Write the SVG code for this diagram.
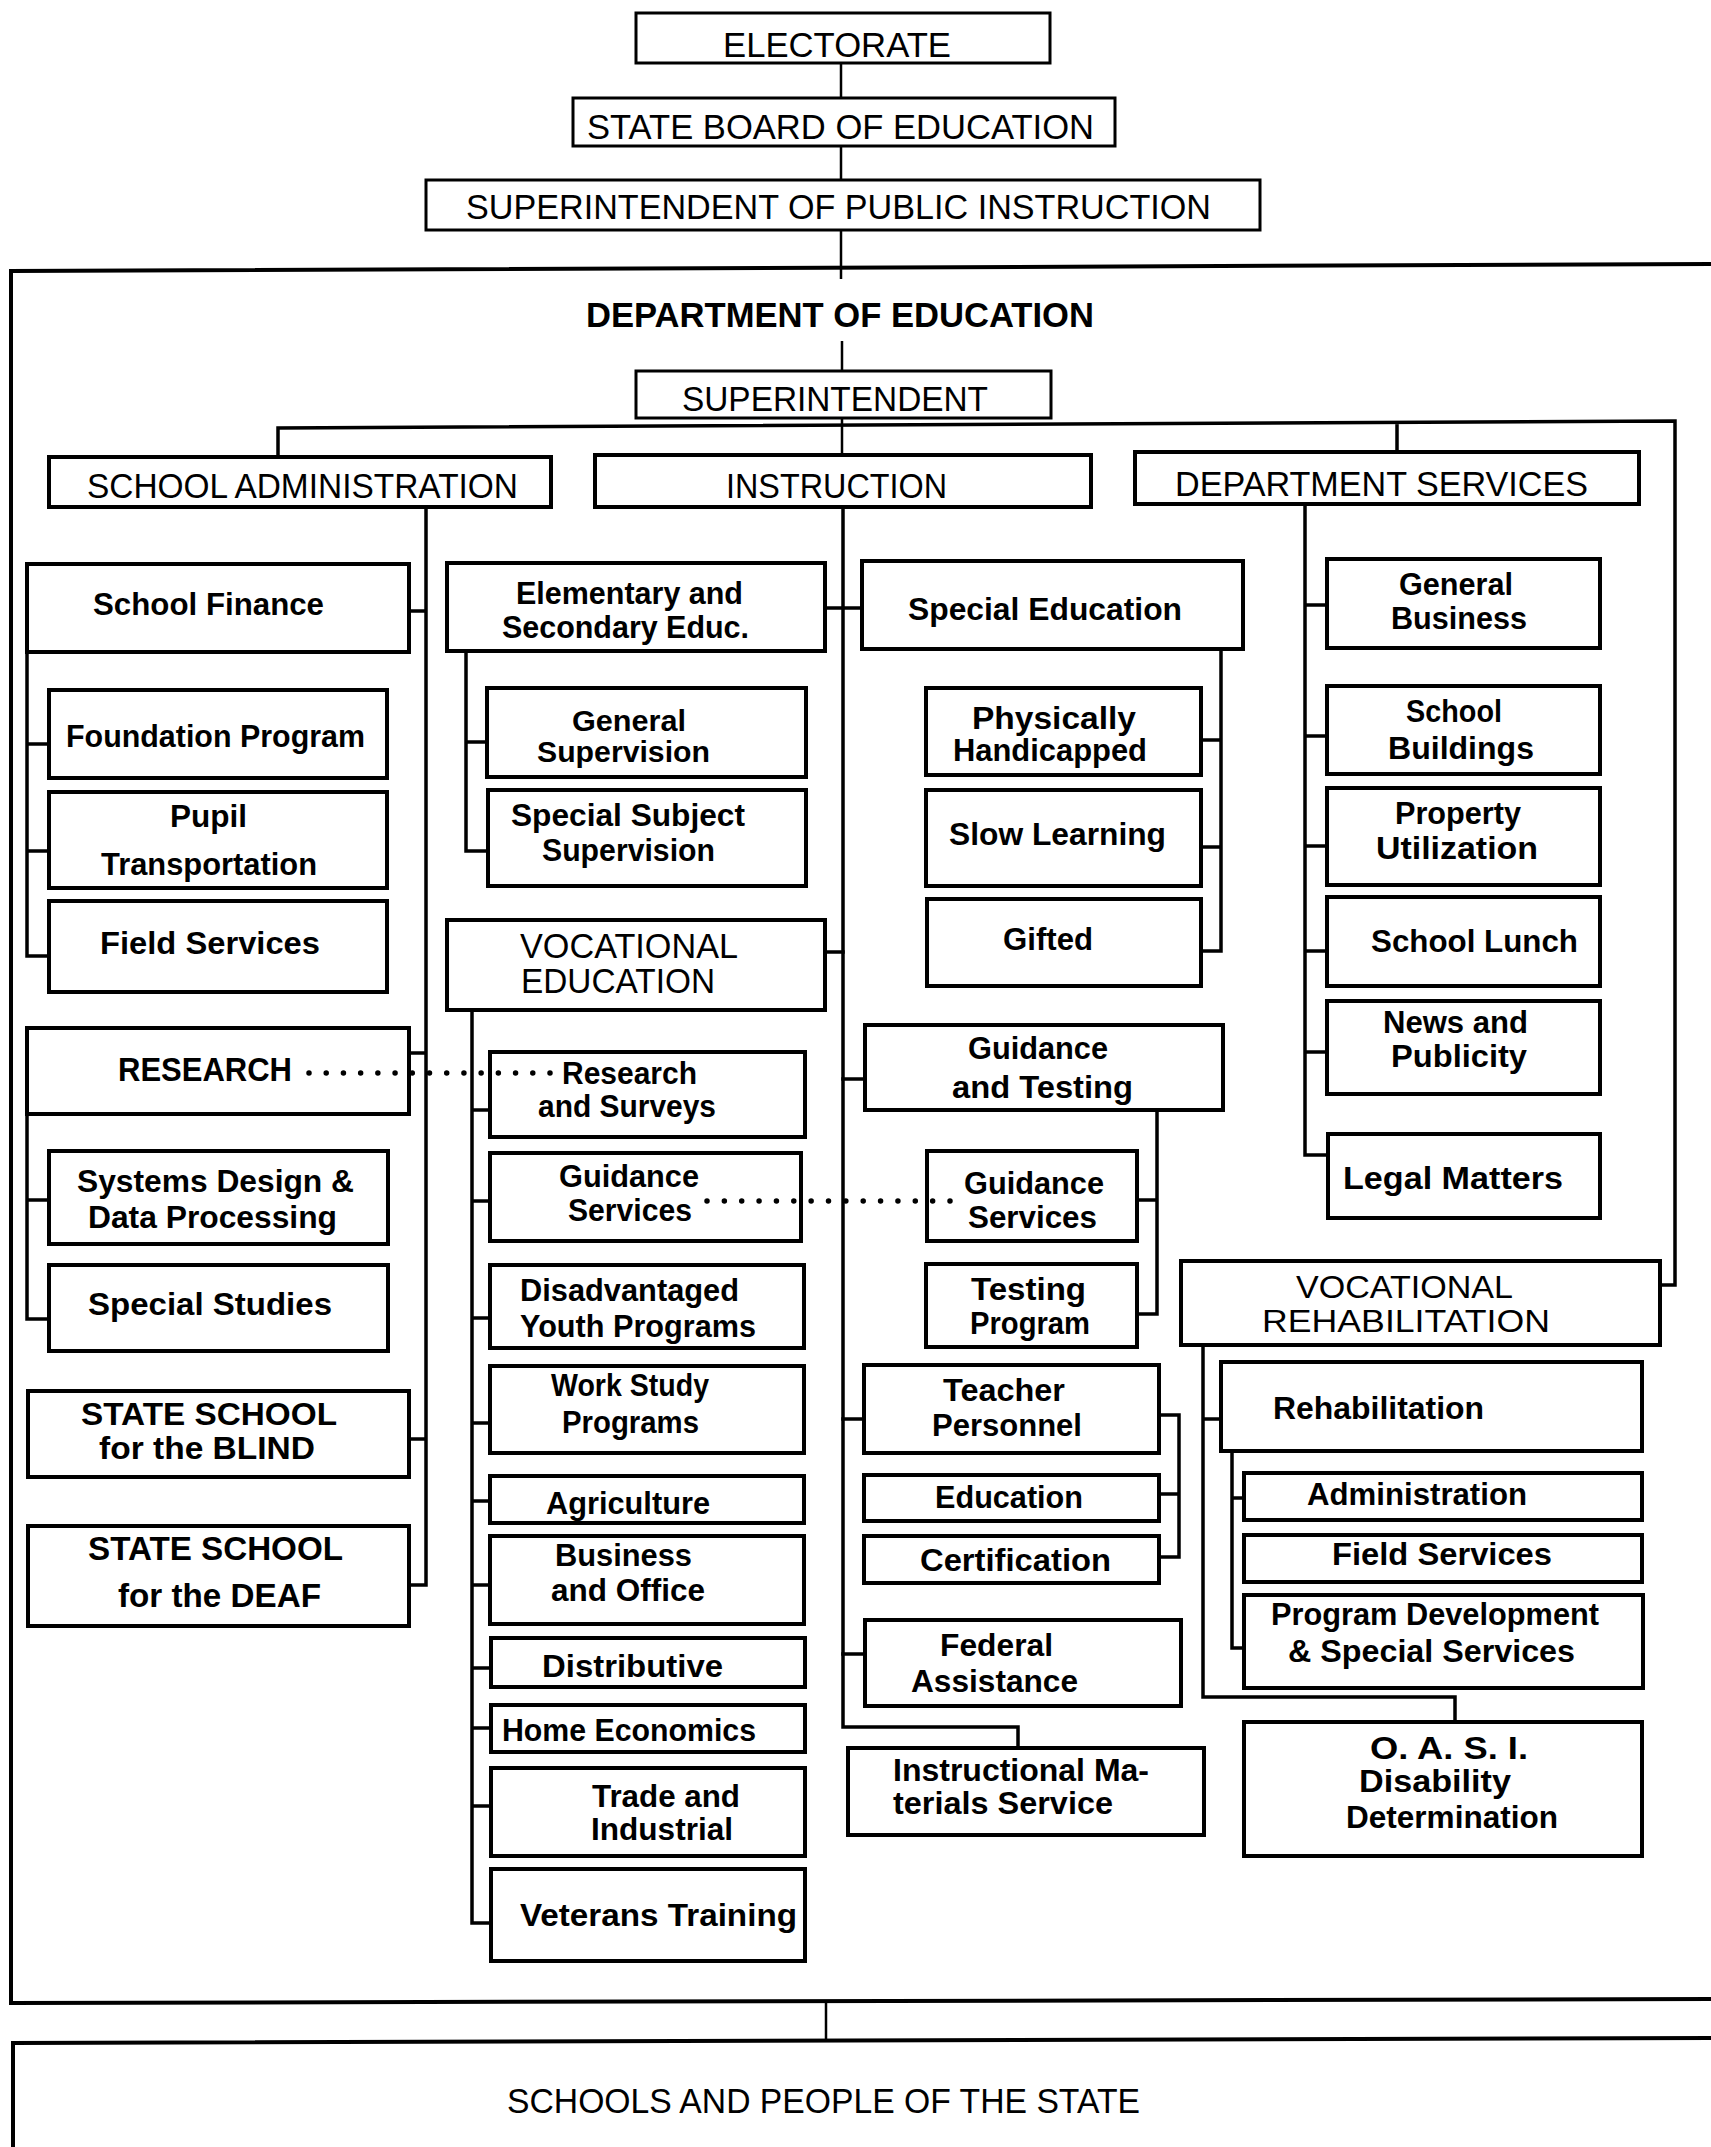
<svg xmlns="http://www.w3.org/2000/svg" width="1711" height="2147" viewBox="0 0 1711 2147">
<style>
.bx{fill:#fff;stroke:#000;stroke-width:4}
.bt{fill:#fff;stroke:#000;stroke-width:3}
.frame{fill:none;stroke:#000;stroke-width:4}
.ln{fill:none;stroke:#000;stroke-width:3.5;stroke-linecap:square}
.lt{fill:none;stroke:#000;stroke-width:2.5}
.dot{fill:none;stroke:#000;stroke-width:5.5;stroke-linecap:round}
text{font-family:"Liberation Sans",Arial,sans-serif;fill:#000}
.u{font-size:35px;font-weight:normal}
.ub{font-size:35px;font-weight:bold}
.b{font-size:31px;font-weight:bold}
.m{font-size:33px;font-weight:bold}
</style>
<rect x="0" y="0" width="1711" height="2147" fill="#fff"/>

<g id="frames">
<path class="frame" d="M1725 264 L11 271 V2003 L1725 1999"/>
<path class="frame" d="M1725 2038 L13 2043 V2160"/>
</g>

<g id="connectors">
<path class="lt" d="M841 63 V98 M841 146 V180 M841 230 V279 M842 341 V371 M842 418 V455"/>
<path class="ln" d="M278 457 V428 L1675 421 V1285 H1660 M1397 424 V452"/>
<path class="ln" d="M426 507 V1585 H409 M409 611 H426 M409 1053 H426 M409 1439 H426"/>
<path class="ln" d="M27 652 V956 H49 M27 744 H49 M27 851 H49"/>
<path class="ln" d="M27 1114 V1319 H49 M27 1200 H49"/>
<path class="ln" d="M843 507 V1727 H1018 V1748"/>
<path class="ln" d="M825 608 H862 M825 952 H843 M843 1079 H865 M843 1419 H864 M843 1654 H865"/>
<path class="ln" d="M466 651 V851 H488 M466 742 H487"/>
<path class="ln" d="M472 1010 V1923 H491 M472 1110 H490 M472 1201 H490 M472 1318 H490 M472 1423 H490 M472 1501 H490 M472 1585 H490 M472 1668 H491 M472 1728 H491 M472 1806 H491"/>
<path class="ln" d="M1221 649 V951 H1201 M1201 740 H1221 M1201 847 H1221"/>
<path class="ln" d="M1157 1110 V1314 H1137 M1137 1200 H1157"/>
<path class="ln" d="M1159 1415 H1179 V1557 H1159 M1159 1494 H1179"/>
<path class="ln" d="M1305 505 V1155 H1328 M1305 605 H1327 M1305 736 H1327 M1305 846 H1327 M1305 951 H1327 M1305 1052 H1327"/>
<path class="ln" d="M1203 1345 V1697 H1455 V1722 M1203 1419 H1221"/>
<path class="ln" d="M1232 1451 V1648 H1244 M1232 1498 H1244"/>
<path class="lt" d="M826 2003 V2042"/>
</g>

<g id="n-electorate"><rect class="bt" x="636" y="13" width="414" height="50"/><text class="u" x="723" y="57" textLength="228" lengthAdjust="spacingAndGlyphs">ELECTORATE</text></g>
<g id="n-stateboard"><rect class="bt" x="573" y="98" width="542" height="48"/><text class="u" x="587" y="139" textLength="507" lengthAdjust="spacingAndGlyphs">STATE BOARD OF EDUCATION</text></g>
<g id="n-spi"><rect class="bt" x="426" y="180" width="834" height="50"/><text class="u" x="466" y="219" textLength="745" lengthAdjust="spacingAndGlyphs">SUPERINTENDENT OF PUBLIC INSTRUCTION</text></g>
<g id="n-dept"><text class="ub" x="586" y="327" textLength="508" lengthAdjust="spacingAndGlyphs">DEPARTMENT OF EDUCATION</text></g>
<g id="n-superintendent"><rect class="bt" x="636" y="371" width="415" height="47"/><text class="u" x="682" y="411" textLength="306" lengthAdjust="spacingAndGlyphs">SUPERINTENDENT</text></g>
<g id="n-schooladmin"><rect class="bx" x="49" y="457" width="502" height="50"/><text class="u" x="87" y="498" textLength="431" lengthAdjust="spacingAndGlyphs">SCHOOL ADMINISTRATION</text></g>
<g id="n-instruction"><rect class="bx" x="595" y="455" width="496" height="52"/><text class="u" x="726" y="498" textLength="221" lengthAdjust="spacingAndGlyphs">INSTRUCTION</text></g>
<g id="n-deptservices"><rect class="bx" x="1135" y="452" width="504" height="52"/><text class="u" x="1175" y="496" textLength="413" lengthAdjust="spacingAndGlyphs">DEPARTMENT SERVICES</text></g>

<g id="n-schoolfinance"><rect class="bx" x="27" y="564" width="382" height="88"/><text class="b" x="93" y="615" textLength="231" lengthAdjust="spacingAndGlyphs">School Finance</text></g>
<g id="n-foundation"><rect class="bx" x="49" y="690" width="338" height="88"/><text class="b" x="66" y="747" textLength="299" lengthAdjust="spacingAndGlyphs">Foundation Program</text></g>
<g id="n-pupil"><rect class="bx" x="49" y="792" width="338" height="96"/><text class="b" x="170" y="827" textLength="77" lengthAdjust="spacingAndGlyphs">Pupil</text><text class="b" x="101" y="875" textLength="216" lengthAdjust="spacingAndGlyphs">Transportation</text></g>
<g id="n-fieldservices"><rect class="bx" x="49" y="901" width="338" height="91"/><text class="b" x="100" y="954" textLength="220" lengthAdjust="spacingAndGlyphs">Field Services</text></g>
<g id="n-research"><rect class="bx" x="27" y="1028" width="382" height="86"/><text class="m" x="118" y="1081" textLength="174" lengthAdjust="spacingAndGlyphs">RESEARCH</text></g>
<g id="n-systems"><rect class="bx" x="49" y="1151" width="339" height="93"/><text class="b" x="77" y="1192" textLength="277" lengthAdjust="spacingAndGlyphs">Systems Design &amp;</text><text class="b" x="88" y="1228" textLength="249" lengthAdjust="spacingAndGlyphs">Data Processing</text></g>
<g id="n-specialstudies"><rect class="bx" x="49" y="1265" width="339" height="86"/><text class="b" x="88" y="1315" textLength="244" lengthAdjust="spacingAndGlyphs">Special  Studies</text></g>
<g id="n-blind"><rect class="bx" x="28" y="1391" width="381" height="86"/><text class="m" x="81" y="1425" textLength="256" lengthAdjust="spacingAndGlyphs" style="font-size:31px">STATE SCHOOL</text><text class="m" x="99" y="1459" textLength="216" lengthAdjust="spacingAndGlyphs" style="font-size:31px">for the BLIND</text></g>
<g id="n-deaf"><rect class="bx" x="28" y="1526" width="381" height="100"/><text class="m" x="88" y="1560" textLength="255" lengthAdjust="spacingAndGlyphs">STATE SCHOOL</text><text class="m" x="118" y="1607" textLength="203" lengthAdjust="spacingAndGlyphs">for the DEAF</text></g>

<g id="n-elementary"><rect class="bx" x="447" y="563" width="378" height="88"/><text class="b" x="516" y="604" textLength="227" lengthAdjust="spacingAndGlyphs">Elementary and</text><text class="b" x="502" y="638" textLength="247" lengthAdjust="spacingAndGlyphs">Secondary Educ.</text></g>
<g id="n-gensup"><rect class="bx" x="487" y="688" width="319" height="89"/><text class="b" x="572" y="731" textLength="114" lengthAdjust="spacingAndGlyphs" style="font-size:29px">General</text><text class="b" x="537" y="762" textLength="173" lengthAdjust="spacingAndGlyphs" style="font-size:29px">Supervision</text></g>
<g id="n-specsubj"><rect class="bx" x="488" y="790" width="318" height="96"/><text class="b" x="511" y="826" textLength="234" lengthAdjust="spacingAndGlyphs">Special Subject</text><text class="b" x="542" y="861" textLength="173" lengthAdjust="spacingAndGlyphs">Supervision</text></g>
<g id="n-voced"><rect class="bx" x="447" y="920" width="378" height="90"/><text class="u" x="520" y="958" textLength="218" lengthAdjust="spacingAndGlyphs">VOCATIONAL</text><text class="u" x="521" y="993" textLength="194" lengthAdjust="spacingAndGlyphs">EDUCATION</text></g>
<g id="n-researchsurveys"><rect class="bx" x="490" y="1052" width="315" height="85"/><text class="b" x="562" y="1084" textLength="135" lengthAdjust="spacingAndGlyphs">Research</text><text class="b" x="538" y="1117" textLength="178" lengthAdjust="spacingAndGlyphs">and Surveys</text></g>
<g id="n-guidanceL"><rect class="bx" x="490" y="1153" width="311" height="88"/><text class="b" x="559" y="1187" textLength="140" lengthAdjust="spacingAndGlyphs">Guidance</text><text class="b" x="568" y="1221" textLength="124" lengthAdjust="spacingAndGlyphs">Services</text></g>
<g id="n-disadv"><rect class="bx" x="490" y="1265" width="314" height="83"/><text class="b" x="520" y="1301" textLength="219" lengthAdjust="spacingAndGlyphs">Disadvantaged</text><text class="b" x="520" y="1337" textLength="236" lengthAdjust="spacingAndGlyphs">Youth Programs</text></g>
<g id="n-workstudy"><rect class="bx" x="490" y="1366" width="314" height="87"/><text class="b" x="551" y="1396" textLength="158" lengthAdjust="spacingAndGlyphs">Work Study</text><text class="b" x="562" y="1433" textLength="137" lengthAdjust="spacingAndGlyphs">Programs</text></g>
<g id="n-agriculture"><rect class="bx" x="490" y="1476" width="314" height="47"/><text class="b" x="546" y="1514" textLength="164" lengthAdjust="spacingAndGlyphs">Agriculture</text></g>
<g id="n-business"><rect class="bx" x="490" y="1536" width="314" height="88"/><text class="b" x="555" y="1566" textLength="137" lengthAdjust="spacingAndGlyphs">Business</text><text class="b" x="551" y="1601" textLength="154" lengthAdjust="spacingAndGlyphs">and Office</text></g>
<g id="n-distributive"><rect class="bx" x="491" y="1638" width="314" height="49"/><text class="b" x="542" y="1677" textLength="181" lengthAdjust="spacingAndGlyphs">Distributive</text></g>
<g id="n-homeec"><rect class="bx" x="491" y="1705" width="314" height="47"/><text class="b" x="502" y="1741" textLength="254" lengthAdjust="spacingAndGlyphs">Home Economics</text></g>
<g id="n-trade"><rect class="bx" x="491" y="1768" width="314" height="88"/><text class="b" x="592" y="1807" textLength="148" lengthAdjust="spacingAndGlyphs">Trade and</text><text class="b" x="591" y="1840" textLength="142" lengthAdjust="spacingAndGlyphs">Industrial</text></g>
<g id="n-veterans"><rect class="bx" x="491" y="1869" width="314" height="92"/><text class="b" x="520" y="1926" textLength="277" lengthAdjust="spacingAndGlyphs">Veterans  Training</text></g>

<g id="n-speced"><rect class="bx" x="862" y="561" width="381" height="88"/><text class="b" x="908" y="620" textLength="274" lengthAdjust="spacingAndGlyphs">Special Education</text></g>
<g id="n-physically"><rect class="bx" x="926" y="688" width="275" height="87"/><text class="b" x="972" y="729" textLength="164" lengthAdjust="spacingAndGlyphs">Physically</text><text class="b" x="953" y="761" textLength="194" lengthAdjust="spacingAndGlyphs">Handicapped</text></g>
<g id="n-slow"><rect class="bx" x="926" y="790" width="275" height="96"/><text class="b" x="949" y="845" textLength="217" lengthAdjust="spacingAndGlyphs">Slow Learning</text></g>
<g id="n-gifted"><rect class="bx" x="927" y="899" width="274" height="87"/><text class="b" x="1003" y="950" textLength="90" lengthAdjust="spacingAndGlyphs">Gifted</text></g>
<g id="n-guidtest"><rect class="bx" x="865" y="1025" width="358" height="85"/><text class="b" x="968" y="1059" textLength="140" lengthAdjust="spacingAndGlyphs">Guidance</text><text class="b" x="952" y="1098" textLength="181" lengthAdjust="spacingAndGlyphs">and Testing</text></g>
<g id="n-guidanceR"><rect class="bx" x="927" y="1151" width="210" height="90"/><text class="b" x="964" y="1194" textLength="140" lengthAdjust="spacingAndGlyphs">Guidance</text><text class="b" x="968" y="1228" textLength="129" lengthAdjust="spacingAndGlyphs">Services</text></g>
<g id="n-testing"><rect class="bx" x="926" y="1264" width="211" height="83"/><text class="b" x="971" y="1300" textLength="115" lengthAdjust="spacingAndGlyphs">Testing</text><text class="b" x="970" y="1334" textLength="120" lengthAdjust="spacingAndGlyphs">Program</text></g>
<g id="n-teacher"><rect class="bx" x="864" y="1365" width="295" height="88"/><text class="b" x="943" y="1401" textLength="122" lengthAdjust="spacingAndGlyphs">Teacher</text><text class="b" x="932" y="1436" textLength="150" lengthAdjust="spacingAndGlyphs">Personnel</text></g>
<g id="n-education"><rect class="bx" x="864" y="1475" width="295" height="46"/><text class="b" x="935" y="1508" textLength="148" lengthAdjust="spacingAndGlyphs">Education</text></g>
<g id="n-certification"><rect class="bx" x="864" y="1536" width="295" height="47"/><text class="b" x="920" y="1571" textLength="191" lengthAdjust="spacingAndGlyphs">Certification</text></g>
<g id="n-federal"><rect class="bx" x="865" y="1620" width="316" height="86"/><text class="b" x="940" y="1656" textLength="113" lengthAdjust="spacingAndGlyphs">Federal</text><text class="b" x="911" y="1692" textLength="167" lengthAdjust="spacingAndGlyphs">Assistance</text></g>
<g id="n-instrmat"><rect class="bx" x="848" y="1748" width="356" height="87"/><text class="b" x="893" y="1781" textLength="256" lengthAdjust="spacingAndGlyphs">Instructional Ma-</text><text class="b" x="893" y="1814" textLength="220" lengthAdjust="spacingAndGlyphs">terials Service</text></g>

<g id="n-genbusiness"><rect class="bx" x="1327" y="559" width="273" height="89"/><text class="b" x="1399" y="595" textLength="114" lengthAdjust="spacingAndGlyphs">General</text><text class="b" x="1391" y="629" textLength="136" lengthAdjust="spacingAndGlyphs">Business</text></g>
<g id="n-buildings"><rect class="bx" x="1327" y="686" width="273" height="88"/><text class="b" x="1406" y="722" textLength="96" lengthAdjust="spacingAndGlyphs">School</text><text class="b" x="1388" y="759" textLength="146" lengthAdjust="spacingAndGlyphs">Buildings</text></g>
<g id="n-property"><rect class="bx" x="1327" y="788" width="273" height="97"/><text class="b" x="1395" y="824" textLength="126" lengthAdjust="spacingAndGlyphs">Property</text><text class="b" x="1376" y="859" textLength="162" lengthAdjust="spacingAndGlyphs">Utilization</text></g>
<g id="n-lunch"><rect class="bx" x="1327" y="897" width="273" height="89"/><text class="b" x="1371" y="952" textLength="207" lengthAdjust="spacingAndGlyphs">School  Lunch</text></g>
<g id="n-news"><rect class="bx" x="1327" y="1001" width="273" height="93"/><text class="b" x="1383" y="1033" textLength="145" lengthAdjust="spacingAndGlyphs">News and</text><text class="b" x="1391" y="1067" textLength="136" lengthAdjust="spacingAndGlyphs">Publicity</text></g>
<g id="n-legal"><rect class="bx" x="1328" y="1134" width="272" height="84"/><text class="b" x="1343" y="1189" textLength="220" lengthAdjust="spacingAndGlyphs">Legal  Matters</text></g>
<g id="n-vocrehab"><rect class="bx" x="1181" y="1261" width="479" height="84"/><text class="u" x="1296" y="1298" textLength="217" lengthAdjust="spacingAndGlyphs" style="font-size:32px">VOCATIONAL</text><text class="u" x="1262" y="1332" textLength="288" lengthAdjust="spacingAndGlyphs" style="font-size:32px">REHABILITATION</text></g>
<g id="n-rehab"><rect class="bx" x="1221" y="1362" width="421" height="89"/><text class="b" x="1273" y="1419" textLength="211" lengthAdjust="spacingAndGlyphs">Rehabilitation</text></g>
<g id="n-admin"><rect class="bx" x="1244" y="1473" width="398" height="47"/><text class="b" x="1307" y="1505" textLength="220" lengthAdjust="spacingAndGlyphs">Administration</text></g>
<g id="n-vrfield"><rect class="bx" x="1244" y="1535" width="398" height="47"/><text class="b" x="1332" y="1565" textLength="220" lengthAdjust="spacingAndGlyphs">Field Services</text></g>
<g id="n-progdev"><rect class="bx" x="1244" y="1595" width="399" height="93"/><text class="b" x="1271" y="1625" textLength="328" lengthAdjust="spacingAndGlyphs">Program Development</text><text class="b" x="1288" y="1662" textLength="287" lengthAdjust="spacingAndGlyphs">&amp; Special Services</text></g>
<g id="n-oasi"><rect class="bx" x="1244" y="1722" width="398" height="134"/><text class="b" x="1370" y="1759" textLength="158" lengthAdjust="spacingAndGlyphs">O. A. S. I.</text><text class="b" x="1359" y="1792" textLength="152" lengthAdjust="spacingAndGlyphs">Disability</text><text class="b" x="1346" y="1828" textLength="212" lengthAdjust="spacingAndGlyphs">Determination</text></g>

<g id="n-schools"><text class="u" x="507" y="2113" textLength="633" lengthAdjust="spacingAndGlyphs">SCHOOLS AND PEOPLE OF THE STATE</text></g>

<g id="dotted-connectors">
<path class="dot" d="M309 1073 H550" stroke-dasharray="0 17.214"/>
<path class="dot" d="M707 1201 H950" stroke-dasharray="0 17.357"/>
</g>
</svg>
